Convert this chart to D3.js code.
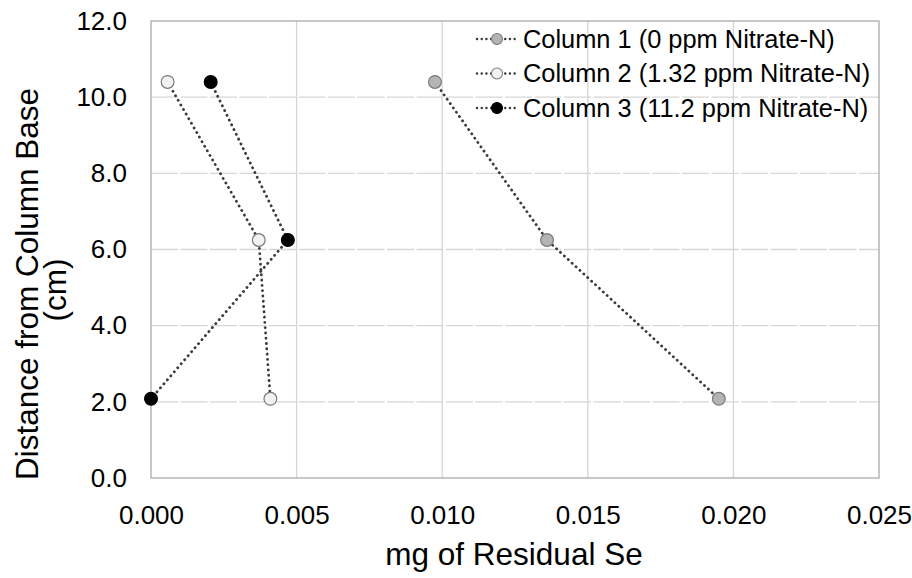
<!DOCTYPE html>
<html>
<head>
<meta charset="utf-8">
<script src="https://cdn.jsdelivr.net/npm/d3@7"></script>
<style>
body { margin: 0; background: #fff; }
text { font-family: "Liberation Sans", Arial, sans-serif; fill: #000; }
</style>
</head>
<body>
<script>
var width = 912, height = 578;
var plot_left = 151, plot_right = 879, plot_top = 21, plot_bottom = 478;

// data
var series_names = ['Column 1 (0 ppm Nitrate-N)', 'Column 2 (1.32 ppm Nitrate-N)', 'Column 3 (11.2 ppm Nitrate-N)'];
var depth_cm = [10.4, 6.25, 2.08];
var col1_se = [0.00975, 0.0136, 0.0195];
var col2_se = [0.00057, 0.0037, 0.0041];
var col3_se = [0.00205, 0.0047, 0.0000];
var x_ticks = [0, 0.005, 0.010, 0.015, 0.020, 0.025];
var y_ticks = [0, 2, 4, 6, 8, 10, 12];

var fills = ['#b4b4b4', '#f2f2f2', '#000000'];
var strokes = ['#7a7a7a', '#7a7a7a', '#000000'];

var all_series = [col1_se, col2_se, col3_se].map(function(xs, i) {
	return {name: series_names[i], fill: fills[i], stroke: strokes[i],
			pts: xs.map(function(v, j) { return {x: v, y: depth_cm[j]}; })};
});

var xScale = d3.scaleLinear().domain([0, 0.025]).range([plot_left, plot_right]);
var yScale = d3.scaleLinear().domain([0, 12]).range([plot_bottom, plot_top]);

var svg = d3.select('body').append('svg').attr('width', width).attr('height', height);

// gridlines
svg.append('g').selectAll('line').data(x_ticks.slice(1, -1))
	.enter().append('line')
	.attr('x1', d => xScale(d)).attr('x2', d => xScale(d))
	.attr('y1', plot_top).attr('y2', plot_bottom)
	.attr('stroke', '#d6d6d6').attr('stroke-width', 1.3);
svg.append('g').selectAll('line').data(y_ticks.slice(1, -1))
	.enter().append('line')
	.attr('x1', plot_left).attr('x2', plot_right)
	.attr('y1', d => yScale(d)).attr('y2', d => yScale(d))
	.attr('stroke', '#d6d6d6').attr('stroke-width', 1.3)
	.attr('stroke-dasharray', '27,2.5');

// plot frame
svg.append('rect')
	.attr('x', plot_left).attr('y', plot_top)
	.attr('width', plot_right - plot_left).attr('height', plot_bottom - plot_top)
	.attr('fill', 'none').attr('stroke', '#ababab').attr('stroke-width', 1.3);

// axes (labels only, Excel style)
var xAxis = svg.append('g').attr('transform', 'translate(0,' + plot_bottom + ')')
	.call(d3.axisBottom(xScale).tickValues(x_ticks).tickFormat(d3.format('.3f')).tickSize(0).tickPadding(28));
var yAxis = svg.append('g').attr('transform', 'translate(' + plot_left + ',0)')
	.call(d3.axisLeft(yScale).tickValues(y_ticks).tickFormat(d3.format('.1f')).tickSize(0).tickPadding(24));
[xAxis, yAxis].forEach(function(a) {
	a.select('.domain').remove();
	a.selectAll('text').style('font-size', '26px').style('font-family', '"Liberation Sans", Arial, sans-serif').attr('fill', '#000');
});

// series
var line = d3.line().x(d => xScale(d.x)).y(d => yScale(d.y));
var groups = svg.append('g').selectAll('g').data(all_series).enter().append('g');
groups.append('path')
	.attr('d', d => line(d.pts))
	.attr('fill', 'none').attr('stroke', '#3a3a3a')
	.attr('stroke-width', 2.8).attr('stroke-linecap', 'round')
	.attr('stroke-dasharray', '0.1,5.2');
groups.selectAll('circle').data(d => d.pts.map(p => ({p: p, s: d})))
	.enter().append('circle')
	.attr('cx', d => xScale(d.p.x)).attr('cy', d => yScale(d.p.y))
	.attr('r', 6.4)
	.attr('fill', d => d.s.fill).attr('stroke', d => d.s.stroke).attr('stroke-width', 1.2);

// legend
var legend = svg.append('g').selectAll('g').data(all_series).enter().append('g')
	.attr('transform', (d, i) => 'translate(476,' + (39 + i * 34.5) + ')');
legend.append('line')
	.attr('x1', 1).attr('x2', 40).attr('y1', 0).attr('y2', 0)
	.attr('stroke', '#3a3a3a').attr('stroke-width', 2.4).attr('stroke-linecap', 'round')
	.attr('stroke-dasharray', '0.1,4.6');
legend.append('circle')
	.attr('cx', 21).attr('cy', 0).attr('r', 5.5)
	.attr('fill', d => d.fill).attr('stroke', d => d.stroke).attr('stroke-width', 1.1);
legend.append('text')
	.attr('x', 47).attr('y', 0).attr('dy', '0.35em')
	.style('font-size', '25.4px')
	.text(d => d.name);

// axis titles
svg.append('text')
	.attr('x', 514).attr('y', 565)
	.style('text-anchor', 'middle').style('font-size', '31.5px')
	.text('mg of Residual Se');
var ytitle = svg.append('text')
	.attr('transform', 'translate(0,284) rotate(-90)')
	.style('text-anchor', 'middle').style('font-size', '31.5px');
ytitle.append('tspan').attr('x', 0).attr('y', 38).text('Distance from Column Base');
ytitle.append('tspan').attr('x', -6).attr('y', 66).text('(cm)');
</script>
</body>
</html>
